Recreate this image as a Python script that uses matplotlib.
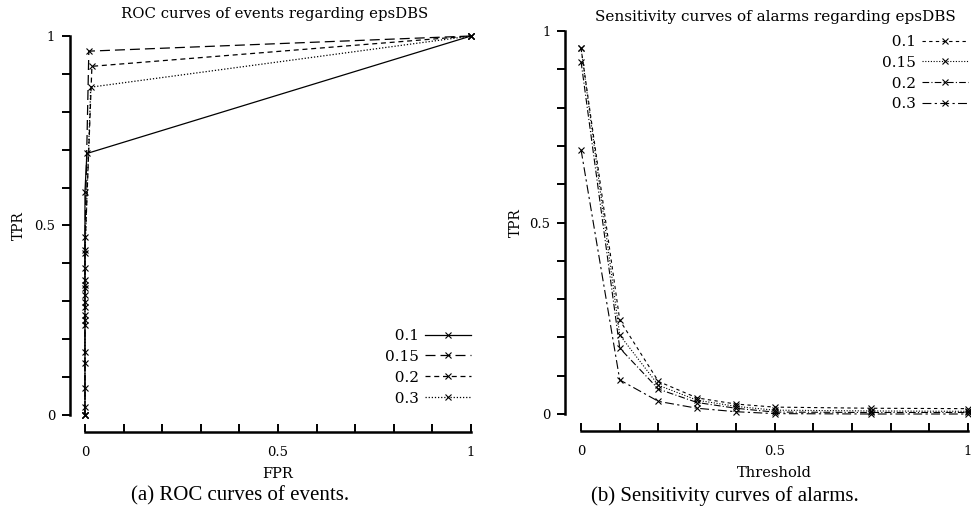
import numpy as np
import matplotlib
matplotlib.use('Agg')
import matplotlib.pyplot as plt
from matplotlib.ticker import MultipleLocator, FuncFormatter

plt.rcParams['font.family'] = 'Liberation Serif'

# ROC curves (left panel)
eps_labels = ['0.1', '0.15', '0.2', '0.3']
roc_fpr = [
    [0, 0, 0, 0, 0, 0, 0, 0.005, 1],
    [0, 0, 0, 0, 0, 0, 0.01, 1],
    [0, 0, 0, 0, 0, 0.018, 1],
    [0, 0, 0, 0, 0.015, 1],
]
roc_tpr = [
    [0, 0.021, 0.137, 0.251, 0.317, 0.387, 0.589, 0.69, 1],
    [0, 0.071, 0.237, 0.298, 0.356, 0.470, 0.96, 1],
    [0, 0.166, 0.264, 0.335, 0.435, 0.92, 1],
    [0, 0.285, 0.343, 0.427, 0.865, 1],
]
roc_styles = ['-', (0, (8, 4)), (0, (4, 3)), (0, (1, 1.5))]

# Sensitivity curves (right panel)
thresholds = [0, 0.1, 0.2, 0.3, 0.4, 0.5, 0.75, 1]
sens_tpr = [
    [0.955, 0.245, 0.085, 0.042, 0.026, 0.018, 0.015, 0.014],
    [0.955, 0.206, 0.075, 0.036, 0.020, 0.010, 0.008, 0.007],
    [0.920, 0.172, 0.065, 0.030, 0.015, 0.005, 0.004, 0.004],
    [0.690, 0.089, 0.033, 0.015, 0.006, 0.001, 0.000, 0.000],
]
sens_styles = [(0, (3, 3)), (0, (1, 1.5)), (0, (6, 2, 1, 2)), (0, (8, 3, 2, 3))]

# right-align legend labels by padding with figure spaces
width = max(len(s) for s in eps_labels)
leg_labels = ['\u2007' * (width - len(s)) + s for s in eps_labels]

fig = plt.figure(figsize=(9.71, 5.12), dpi=100)
ax1 = fig.add_axes([0.0875, 0.1895, 0.3976, 0.7402])
ax2 = fig.add_axes([0.5984, 0.1914, 0.3986, 0.748])


def style_axes(ax, left_off, bottom_off):
    for s in ['top', 'right']:
        ax.spines[s].set_visible(False)
    ax.spines['left'].set_position(('outward', left_off))
    ax.spines['bottom'].set_position(('outward', bottom_off))
    ax.spines['left'].set_linewidth(1.8)
    ax.spines['bottom'].set_linewidth(1.8)
    ax.set_xlim(0, 1)
    ax.set_ylim(0, 1)
    ax.xaxis.set_major_locator(MultipleLocator(0.1))
    ax.yaxis.set_major_locator(MultipleLocator(0.1))
    fmt = FuncFormatter(lambda v, p: {0: '0', 5: '0.5', 10: '1'}.get(int(round(v * 10)), ''))
    ax.xaxis.set_major_formatter(fmt)
    ax.yaxis.set_major_formatter(fmt)
    ax.tick_params(axis='y', direction='out', length=5.5, width=1.4, pad=5)
    ax.tick_params(axis='x', direction='in', length=5.5, width=1.4, pad=10)
    for lab in ax.get_xticklabels() + ax.get_yticklabels():
        lab.set_family('DejaVu Serif')
        lab.set_fontsize(9.5)


for i in range(4):
    ax1.plot(roc_fpr[i], roc_tpr[i], color='black', linestyle=roc_styles[i], lw=0.9,
             marker='x', ms=4, mew=0.8, clip_on=False, label=leg_labels[i])
    ax2.plot(thresholds, sens_tpr[i], color='black', linestyle=sens_styles[i], lw=0.8,
             marker='x', ms=4, mew=0.8, clip_on=False, label=leg_labels[i])

style_axes(ax1, 11, 12)
style_axes(ax2, 11.5, 12)

leg_kw = dict(frameon=False, markerfirst=False, handlelength=3.0, handletextpad=0.4,
              labelspacing=0.45, borderaxespad=0.0, borderpad=0.0,
              prop={'family': 'DejaVu Serif', 'size': 11})
ax1.legend(loc='lower right', bbox_to_anchor=(1.0, 0.025), **leg_kw)
ax2.legend(loc='upper right', bbox_to_anchor=(1.0, 0.99), **leg_kw)

ax1.set_ylabel('TPR', fontsize=10, family='DejaVu Serif', labelpad=6)
ax2.set_ylabel('TPR', fontsize=10, family='DejaVu Serif', labelpad=5)
ax1.set_xlabel('FPR', fontsize=10.5, family='DejaVu Serif', labelpad=6)
ax2.set_xlabel('Threshold', fontsize=10.5, family='DejaVu Serif', labelpad=6)

fig.text(275 / 971, 1 - 14 / 512, 'ROC curves of events regarding epsDBS',
         ha='center', va='center', fontsize=10.7, family='DejaVu Serif')
fig.text(775 / 971, 1 - 17 / 512, 'Sensitivity curves of alarms regarding epsDBS',
         ha='center', va='center', fontsize=11, family='DejaVu Serif')

fig.text(240 / 971, 1 - 496 / 512, '(a) ROC curves of events.',
         ha='center', va='center', fontsize=15)
fig.text(725 / 971, 1 - 496 / 512, '(b) Sensitivity curves of alarms.',
         ha='center', va='center', fontsize=15)

fig.savefig('out.png', dpi=100)
